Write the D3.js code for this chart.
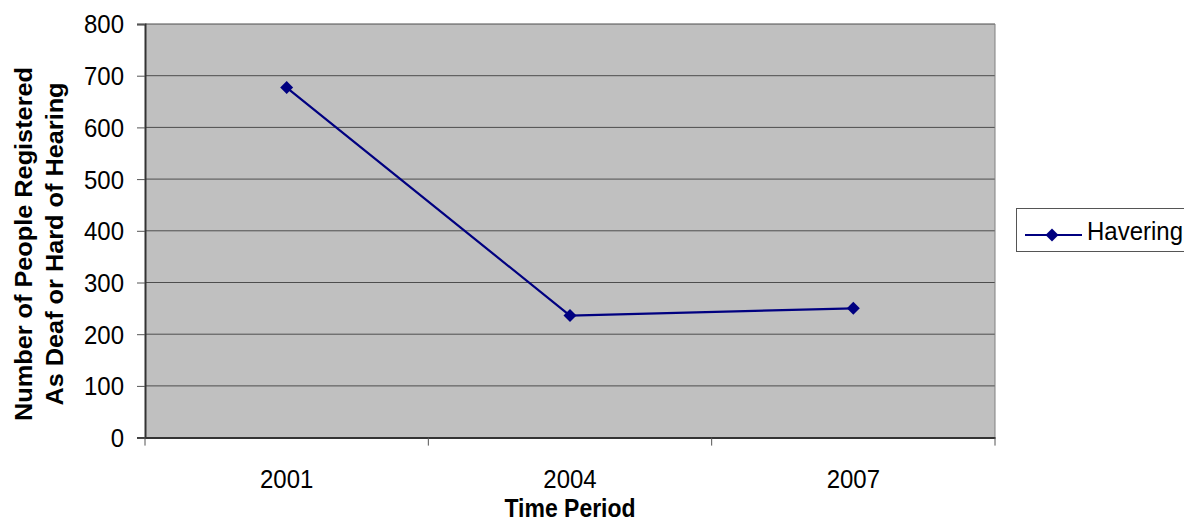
<!DOCTYPE html>
<html><head><meta charset="utf-8">
<script src="https://cdn.jsdelivr.net/npm/d3@7"></script>
<style>body{margin:0;background:#fff;font-family:"Liberation Sans",Arial,sans-serif;}</style>
</head><body>
<svg id="c" width="1184" height="531"></svg>
<script>
const categories = ["2001", "2004", "2007"];
const havering = [677, 236, 250];
const yTicks = [0, 100, 200, 300, 400, 500, 600, 700, 800];
const seriesName = "Havering";

const FONT = "Liberation Sans, Arial, sans-serif";
const STRETCH = 1.1;
const svg = d3.select("#c");
const m = {left: 145, top: 24, right: 995, bottom: 437.6};
const x = d3.scaleBand().domain(categories).range([m.left, m.right]);
const y = d3.scaleLinear().domain([0, 800]).range([m.bottom, m.top]);

svg.append("rect").attr("x", m.left).attr("y", m.top)
  .attr("width", m.right - m.left).attr("height", m.bottom - m.top)
  .attr("fill", "#c0c0c0");

svg.append("g").selectAll("line").data(yTicks.filter(d => d > 0)).join("line")
  .attr("x1", m.left).attr("x2", m.right)
  .attr("y1", d => y(d)).attr("y2", d => y(d))
  .attr("stroke", "#4d4d4d").attr("stroke-width", 1);
svg.append("line").attr("x1", m.right).attr("x2", m.right).attr("y1", m.top).attr("y2", m.bottom)
  .attr("stroke", "#808080").attr("stroke-width", 1);

const yAxis = d3.axisLeft(y).tickValues(yTicks).tickSize(8).tickPadding(13);
const gy = svg.append("g").attr("transform", `translate(${m.left},0)`).call(yAxis);
gy.select(".domain").attr("stroke", "#333").attr("stroke-width", 2);
gy.selectAll(".tick line").attr("stroke", "#555");
gy.selectAll("text").attr("font-size", 24).attr("fill", "#000")
  .attr("font-family", FONT).attr("dy", "0.34em")
  .attr("transform", `scale(1,${STRETCH})`);

const xAxis = d3.axisBottom(x).tickSize(0);
const gx = svg.append("g").attr("transform", `translate(0,${m.bottom})`).call(xAxis);
gx.select(".domain").attr("stroke", "#333").attr("stroke-width", 2);
gx.selectAll("text").attr("font-size", 24).attr("fill", "#000")
  .attr("font-family", FONT).attr("dy", 0).attr("y", 50 / STRETCH)
  .attr("transform", `scale(1,${STRETCH})`);
const bounds = categories.map(c => x(c)).concat([x(categories[categories.length-1]) + x.bandwidth()]);
gx.selectAll(".btick").data(bounds).join("line").attr("class", "btick")
  .attr("x1", d => d).attr("x2", d => d).attr("y1", 0).attr("y2", 8)
  .attr("stroke", "#555");

const cx = (d, i) => x(categories[i]) + x.bandwidth() / 2;
const line = d3.line().x((d, i) => cx(d, i)).y(d => y(d));
svg.append("path").datum(havering).attr("d", line)
  .attr("fill", "none").attr("stroke", "#000080").attr("stroke-width", 2.2);
const diamond = d3.symbol().type(d3.symbolSquare).size(84);
svg.append("g").selectAll("path").data(havering).join("path")
  .attr("d", diamond)
  .attr("transform", (d, i) => `translate(${cx(d, i)},${y(d)}) rotate(45)`)
  .attr("fill", "#000080");

svg.append("g").attr("transform", `translate(570,517) scale(1,${STRETCH})`)
  .append("text").attr("text-anchor", "middle").attr("font-family", FONT)
  .attr("font-size", 23).attr("font-weight", "bold").text("Time Period");
const yt = svg.append("g").attr("transform", `translate(0,244) rotate(-90) scale(${STRETCH},1)`)
  .append("text").attr("text-anchor", "middle").attr("font-family", FONT)
  .attr("font-size", 23).attr("font-weight", "bold");
yt.append("tspan").attr("x", 0).attr("y", 32).text("Number of People Registered");
yt.append("tspan").attr("x", 0).attr("y", 63).text("As Deaf or Hard of Hearing");

const lg = svg.append("g");
lg.append("rect").attr("x", 1016.5).attr("y", 208.5).attr("width", 200).attr("height", 43)
  .attr("fill", "#fff").attr("stroke", "#555");
lg.append("line").attr("x1", 1025).attr("x2", 1082).attr("y1", 235).attr("y2", 235)
  .attr("stroke", "#000080").attr("stroke-width", 2.2);
lg.append("path").attr("d", diamond).attr("transform", "translate(1052,235) rotate(45)")
  .attr("fill", "#000080");
lg.append("g").attr("transform", `translate(1087,240) scale(1,${STRETCH})`)
  .append("text").attr("font-family", FONT).attr("font-size", 24).text(seriesName);
</script>
</body></html>
